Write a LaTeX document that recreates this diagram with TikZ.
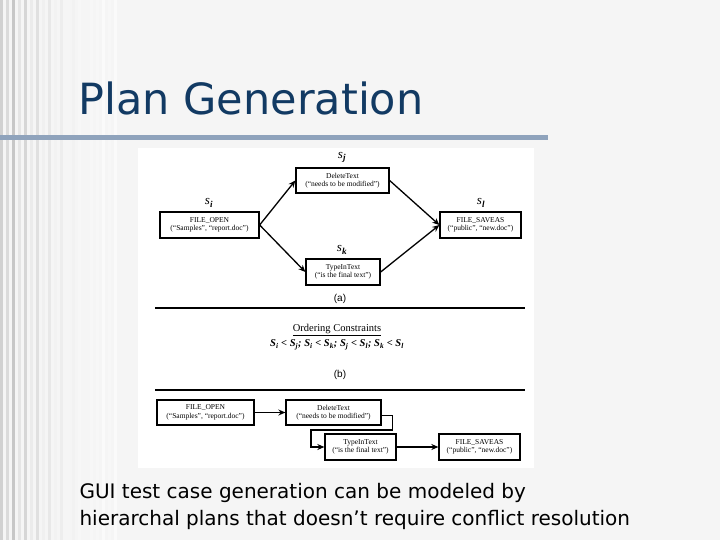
\documentclass[tikz,border=0pt]{standalone}
\usepackage{fontspec}
\setmainfont{Liberation Serif}
\newfontfamily\slidefont{DejaVu Sans}
\newfontfamily\arialfont{Liberation Sans}
\usetikzlibrary{arrows.meta}
\definecolor{titleblue}{HTML}{123A63}
\definecolor{barblue}{HTML}{8FA3BC}
\tikzset{x=1pt,y=-1pt,
 box/.style={draw,line width=1.3pt,inner sep=0pt,font=\fontsize{7.5}{8.5}\selectfont,align=center},
 arr/.style={-{Stealth[length=7pt,width=6pt]},line width=1.3pt},
 slab/.style={font=\fontsize{13}{13}\selectfont\itshape}}
\begin{document}
\begin{tikzpicture}
\useasboundingbox (0,0) rectangle (720,540);
\fill[gray!8] (0,0) rectangle (720,540);
\foreach \i/\c in {0/18,6/14,12/22,18/10,24/16,30/8,36/12,42/6,48/9,54/5,60/7,66/4,72/5,78/3,84/4,90/3,96/3,102/2,108/3,114/2} \fill[black!\c] (\i,0) rectangle ++(3,540);
\node[font=\slidefont\fontsize{43}{48}\selectfont,text=titleblue,anchor=base west] (title) at (75,115) {Plan Generation};
\fill[barblue] (0,135) rectangle (548,140);
\fill[white] (138,148) rectangle (534,468);
% top diagram
\node[box,minimum width=93,minimum height=25] (dj) at (342.5,180.5) {DeleteText\\(``needs to be modified'')};
\node[box,minimum width=99,minimum height=26] (oi) at (209.5,225) {FILE\_OPEN\\(``Samples'', ``report.doc'')};
\node[box,minimum width=81,minimum height=26] (sl) at (480.5,225) {FILE\_SAVEAS\\(``public'', ``new.doc'')};
\node[box,minimum width=74,minimum height=26] (tk) at (343,272) {TypeInText\\(``is the final text'')};
\node[slab] (lj) at (342,157) {s\textsubscript{\textbf{j}}};
\node[slab] (li) at (209,203) {s\textsubscript{\textbf{i}}};
\node[slab] (ll) at (481,203) {s\textsubscript{\textbf{l}}};
\node[slab] (lk) at (342,250) {s\textsubscript{\textbf{k}}};
\draw[arr] (oi.east) -- (dj.west);
\draw[arr] (oi.east) -- (tk.west);
\draw[arr] (dj.east) -- (sl.west);
\draw[arr] (tk.east) -- (sl.west);
\node[font=\arialfont\fontsize{10}{10}\selectfont] (a) at (340,299) {(a)};
\draw[line width=1.3pt] (155,308) coordinate (l1a) -- (525,308) coordinate (l1b);
\node[font=\fontsize{10.5}{11}\selectfont] (oc) at (337,330) {\underline{Ordering Constraints}};
\node[font=\fontsize{10.5}{11}\selectfont\bfseries\itshape] (f) at (337,345) {S\textsubscript{i} < S\textsubscript{j}; S\textsubscript{i} < S\textsubscript{k}; S\textsubscript{j} < S\textsubscript{l}; S\textsubscript{k} < S\textsubscript{l}};
\node[font=\arialfont\fontsize{10}{10}\selectfont] (b) at (340,375) {(b)};
\draw[line width=1.3pt] (155,390) coordinate (l2a) -- (525,390) coordinate (l2b);
% bottom diagram
\node[box,minimum width=97,minimum height=25] (b1) at (205.5,412.5) {FILE\_OPEN\\(``Samples'', ``report.doc'')};
\node[box,minimum width=95,minimum height=25] (b2) at (333.5,412.5) {DeleteText\\(``needs to be modified'')};
\node[box,minimum width=71,minimum height=26] (b3) at (360.5,447) {TypeInText\\(``is the final text'')};
\node[box,minimum width=81,minimum height=26] (b4) at (479.5,447) {FILE\_SAVEAS\\(``public'', ``new.doc'')};
\draw[arr] (b1.east) -- (b2.west);
\draw[arr] ([yshift=-3]b2.east) -- ++(11,0) |- (311,430) |- (b3.west);
\draw[arr] (b3.east) -- (b4.west);
\node[font=\slidefont\fontsize{20}{27}\selectfont,anchor=north west,align=left] (cap) at (76,480) {GUI test case generation can be modeled by\\hierarchal plans that doesn’t require conflict resolution};
\end{tikzpicture}
\end{document}
